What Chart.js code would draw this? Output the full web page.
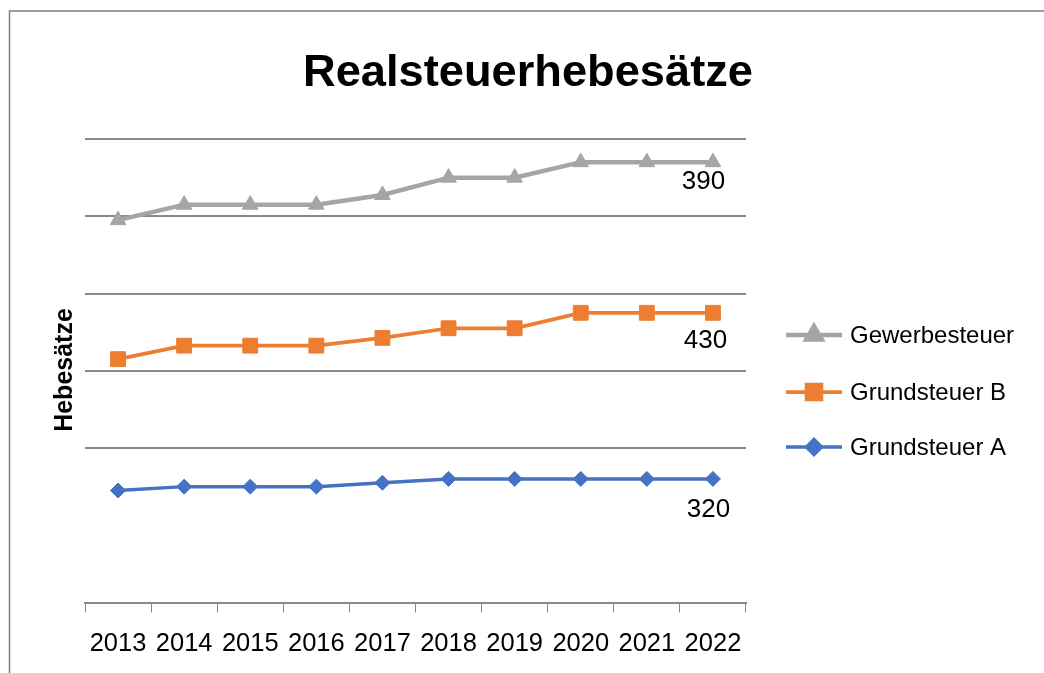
<!DOCTYPE html>
<html>
<head>
<meta charset="utf-8">
<script src="https://cdn.jsdelivr.net/npm/chart.js@4.4.0/dist/chart.umd.min.js"></script>
<style>
html,body{margin:0;padding:0;background:#fff;}
#wrap{width:1044px;height:673px;position:relative;}
canvas{display:block;}
</style>
</head>
<body>
<div id="wrap"><canvas id="c" width="1044" height="673"></canvas></div>
<script>
// ---- data (stacked line chart) ----
const years = ['2013','2014','2015','2016','2017','2018','2019','2020','2021','2022'];
const grundsteuerA = [290, 300, 300, 300, 310, 320, 320, 320, 320, 320];
const grundsteuerB = [340, 365, 365, 365, 375, 390, 390, 430, 430, 430];
const gewerbesteuer = [360, 365, 365, 365, 370, 390, 390, 390, 390, 390];
const yTicks = [0, 200, 400, 600, 800, 1000, 1200];
const titleText = 'Realsteuerhebesätze';
const yTitleText = 'Hebesätze';

const GRID = '#898989';
const FONT = "'Liberation Sans', Arial, sans-serif";

const decor = {
  id: 'decor',
  beforeDraw(chart) {
    const ctx = chart.ctx;
    ctx.save();
    ctx.fillStyle = '#fff';
    ctx.fillRect(0, 0, chart.width, chart.height);
    ctx.strokeStyle = '#7f7f7f';
    ctx.lineWidth = 1.5;
    ctx.beginPath();
    ctx.moveTo(9.5, chart.height);
    ctx.lineTo(9.5, 11);
    ctx.lineTo(chart.width, 11);
    ctx.stroke();
    ctx.restore();
  },
  afterDraw(chart) {
    const ctx = chart.ctx;
    const H = Chart.helpers;
    ctx.save();
    // title
    ctx.fillStyle = '#000';
    ctx.textAlign = 'center';
    ctx.textBaseline = 'alphabetic';
    let fs = 46;
    ctx.font = 'bold ' + fs + 'px ' + FONT;
    const w = ctx.measureText(titleText).width;
    fs = fs * 450 / w;
    ctx.font = 'bold ' + fs.toFixed(2) + 'px ' + FONT;
    ctx.fillText(titleText, 528, 86);

    // y axis title
    ctx.save();
    ctx.translate(72, 370);
    ctx.rotate(-Math.PI / 2);
    ctx.font = 'bold 25px ' + FONT;
    ctx.textAlign = 'center';
    ctx.textBaseline = 'alphabetic';
    ctx.fillText(yTitleText, 0, 0);
    ctx.restore();

    // legend (reverse order like the reference)
    const legendY = [335, 392, 447];
    const order = [2, 1, 0];
    ctx.font = '24px ' + FONT;
    ctx.textAlign = 'left';
    ctx.textBaseline = 'middle';
    order.forEach((di, k) => {
      const ds = chart.data.datasets[di];
      const y = legendY[k];
      ctx.strokeStyle = ds.borderColor;
      ctx.lineWidth = ds.borderWidth;
      ctx.beginPath();
      ctx.moveTo(786, y);
      ctx.lineTo(842, y);
      ctx.stroke();
      ctx.fillStyle = ds.pointBackgroundColor;
      ctx.strokeStyle = ds.pointBorderColor;
      H.drawPoint(ctx, {pointStyle: ds.pointStyle, radius: ds.pointRadius, borderWidth: ds.pointBorderWidth, rotation: 0}, 814, y);
      ctx.fillStyle = '#000';
      ctx.fillText(ds.label, 850, y + 1);
    });

    // data labels on the last point
    const offs = chart.options.plugins.decor.offsets;
    ctx.font = '26px ' + FONT;
    ctx.textAlign = 'center';
    ctx.textBaseline = 'alphabetic';
    ctx.fillStyle = '#000';
    chart.data.datasets.forEach((ds, i) => {
      const meta = chart.getDatasetMeta(i);
      const last = meta.data.length - 1;
      const pt = meta.data[last];
      const o = offs[i];
      ctx.fillText(String(ds.data[last]), pt.x + o[0], pt.y + o[1]);
    });
    ctx.restore();
  }
};

new Chart(document.getElementById('c'), {
  type: 'line',
  data: {
    labels: years,
    datasets: [
      {
        label: 'Grundsteuer A', data: grundsteuerA,
        borderColor: '#4472C4', backgroundColor: '#4472C4', borderWidth: 3.5,
        pointStyle: 'rectRot', pointRadius: 7.5, pointBackgroundColor: '#4472C4',
        pointBorderColor: '#4472C4', pointBorderWidth: 1, tension: 0, fill: false
      },
      {
        label: 'Grundsteuer B', data: grundsteuerB,
        borderColor: '#ED7D31', backgroundColor: '#ED7D31', borderWidth: 3.75,
        pointStyle: 'rect', pointRadius: 10.5, pointBackgroundColor: '#ED7D31',
        pointBorderColor: '#ED7D31', pointBorderWidth: 1, tension: 0, fill: false
      },
      {
        label: 'Gewerbesteuer', data: gewerbesteuer,
        borderColor: '#A5A5A5', backgroundColor: '#A5A5A5', borderWidth: 4.5,
        pointStyle: 'triangle', pointRadius: 9, pointBackgroundColor: '#A5A5A5',
        pointBorderColor: '#A5A5A5', pointBorderWidth: 1, tension: 0, fill: false
      }
    ]
  },
  options: {
    responsive: false,
    animation: false,
    devicePixelRatio: 1,
    layout: { padding: { top: 139, left: 85, right: 298, bottom: 0 } },
    plugins: {
      legend: { display: false },
      title: { display: false },
      tooltip: { enabled: false },
      decor: { offsets: [[-4.5, 38], [-7.5, 35.5], [-9.5, 27]] }
    },
    scales: {
      x: {
        offset: true,
        grid: { offset: true, drawOnChartArea: false, drawTicks: true, tickLength: 10, color: GRID, lineWidth: 1 },
        border: { display: true, color: GRID, width: 2 },
        ticks: { color: '#000', font: { family: FONT, size: 25.5 }, padding: 16, maxRotation: 0, autoSkip: false },
        afterFit(scale) { scale.height = 70.5; }
      },
      y: {
        stacked: true,
        min: 0, max: 1200,
        afterBuildTicks(scale) { scale.ticks = yTicks.map(v => ({ value: v })); },
        ticks: { display: false },
        grid: {
          drawTicks: false,
          lineWidth: 2,
          color: (c) => (c.tick && c.tick.value === 200) ? 'rgba(0,0,0,0)' : GRID
        },
        border: { display: false },
        title: { display: false },
        afterFit(scale) { scale.width = 0; }
      }
    }
  },
  plugins: [decor]
});
</script>
</body>
</html>
